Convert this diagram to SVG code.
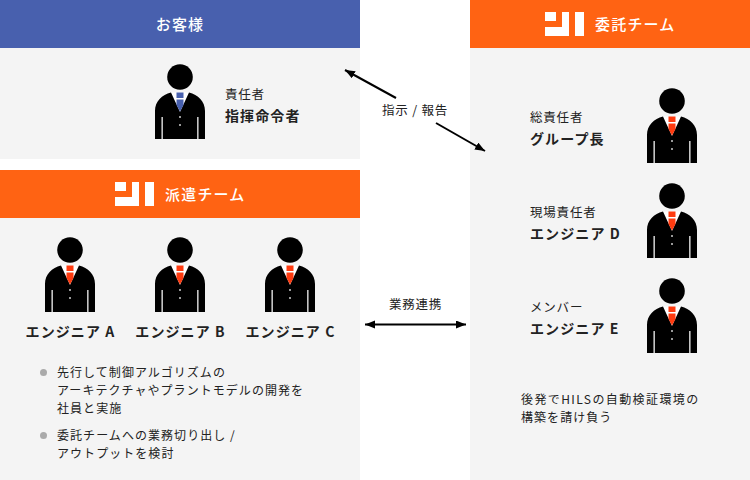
<svg xmlns="http://www.w3.org/2000/svg" width="750" height="480" viewBox="0 0 750 480">
<style>
text{font-family:"Noto Sans CJK JP","Noto Sans",sans-serif;fill:#222}
.h{font-size:15px;font-weight:500;fill:#fff;letter-spacing:1.200px}
.s{font-size:12.500px;letter-spacing:.8px}
.b{font-size:14px;font-weight:700;letter-spacing:1.100px}
.n{font-size:12px;letter-spacing:1.050px}
.p{fill:#f4f4f4}
.line{stroke:#000;stroke-width:2;fill:none}
.red{fill:#ff3b10}
.blue{fill:#4860ae}
</style>
<defs>
<g id="body">
<circle cx="0" cy="0" r="12.800"/>
<path d="M-9 15.500H9L0 35Z" fill="#fff"/>
<path d="M-9 15.500C-18 18-25 24-25 34V62H25V34C25 24 18 18 9 15.500L0 35Z"/>
<path d="M-18.500 40H-17.200V62H-18.500ZM17.200 40H18.500V62H17.200Z" fill="#f4f4f4"/>
<circle cx="0" cy="40" r="1" fill="#ccc"/><circle cx="0" cy="48" r="1" fill="#ccc"/>
</g>
<g id="tie">
<path d="M-3.500 15.500H3.500V21H-3.500ZM-3.500 22.500H3.500V28L0 34.500L-3.500 28Z"/>
</g>
<g id="logo" fill="#fff">
<rect x="0" y="0" width="11" height="9"/>
<path d="M0 15H17V0H24V24H0Z"/>
<rect x="30" y="0" width="9" height="24"/>
</g>
<marker id="ah" markerUnits="userSpaceOnUse" markerWidth="12" markerHeight="10" refX="10" refY="4" orient="auto-start-reverse"><path d="M0 0L10 4L0 8Z"/></marker>
</defs>
<rect class="p" x="0" y="48" width="360" height="111"/>
<rect class="p" x="0" y="218" width="360" height="262"/>
<rect class="p" x="470" y="48" width="280" height="432"/>
<g id="customer">
<rect x="0" y="0" width="360" height="48" fill="#4860ae"/>
<text class="h" x="180" y="30" text-anchor="middle">お客様</text>
</g>
<g id="dispatch-team">
<rect x="0" y="170" width="360" height="48" fill="#ff6313"/>
<use href="#logo" x="115" y="182"/>
<text class="h" x="165" y="200">派遣チーム</text>
</g>
<g id="contract-team">
<rect x="470" y="0" width="280" height="48" fill="#ff6313"/>
<use href="#logo" x="545" y="12"/>
<text class="h" x="595" y="30">委託チーム</text>
</g>
<g id="manager">
<use href="#body" x="180" y="77"/>
<use href="#tie" x="180" y="77" class="blue"/>
<text class="s" x="225" y="99">責任者</text>
<text class="b" x="225" y="121">指揮命令者</text>
</g>
<g id="engineer-a">
<use href="#body" x="70" y="250"/>
<use href="#tie" x="70" y="250" class="red"/>
<text class="b" x="70.500" y="337" text-anchor="middle">エンジニア A</text>
</g>
<g id="engineer-b">
<use href="#body" x="180" y="250"/>
<use href="#tie" x="180" y="250" class="red"/>
<text class="b" x="180.500" y="337" text-anchor="middle">エンジニア B</text>
</g>
<g id="engineer-c">
<use href="#body" x="290" y="250"/>
<use href="#tie" x="290" y="250" class="red"/>
<text class="b" x="290.500" y="337" text-anchor="middle">エンジニア C</text>
</g>
<g id="notes-left">
<circle cx="43.500" cy="372.500" r="3.500" fill="#aaa"/>
<text class="n" x="57" y="377">先行して制御アルゴリズムの</text>
<text class="n" x="57" y="395">アーキテクチャやプラントモデルの開発を</text>
<text class="n" x="57" y="413">社員と実施</text>
<circle cx="43.500" cy="435.500" r="3.500" fill="#aaa"/>
<text class="n" x="57" y="440">委託チームへの業務切り出し /</text>
<text class="n" x="57" y="458">アウトプットを検討</text>
</g>
<g id="lead">
<use href="#body" x="672" y="101"/>
<use href="#tie" x="672" y="101" class="red"/>
<text class="s" x="530" y="122">総責任者</text>
<text class="b" x="530" y="144">グループ長</text>
</g>
<g id="engineer-d">
<use href="#body" x="672" y="196"/>
<use href="#tie" x="672" y="196" class="red"/>
<text class="s" x="530" y="217">現場責任者</text>
<text class="b" x="530" y="239">エンジニア D</text>
</g>
<g id="engineer-e">
<use href="#body" x="672" y="291"/>
<use href="#tie" x="672" y="291" class="red"/>
<text class="s" x="530" y="312">メンバー</text>
<text class="b" x="530" y="334">エンジニア E</text>
</g>
<g id="notes-right">
<text class="n" x="521" y="404" style="letter-spacing:1.400px">後発でHILSの自動検証環境の</text>
<text class="n" x="521" y="422">構築を請け負う</text>
</g>
<g id="connectors">
<path class="line" d="M345 70L396 98" marker-start="url(#ah)"/>
<path class="line" d="M436 123L485 151" marker-end="url(#ah)"/>
<path class="line" d="M365 324.500H466" marker-start="url(#ah)" marker-end="url(#ah)"/>
<text class="s" x="415" y="115" text-anchor="middle">指示 / 報告</text>
<text class="s" x="415.500" y="309" text-anchor="middle">業務連携</text>
</g>
</svg>
